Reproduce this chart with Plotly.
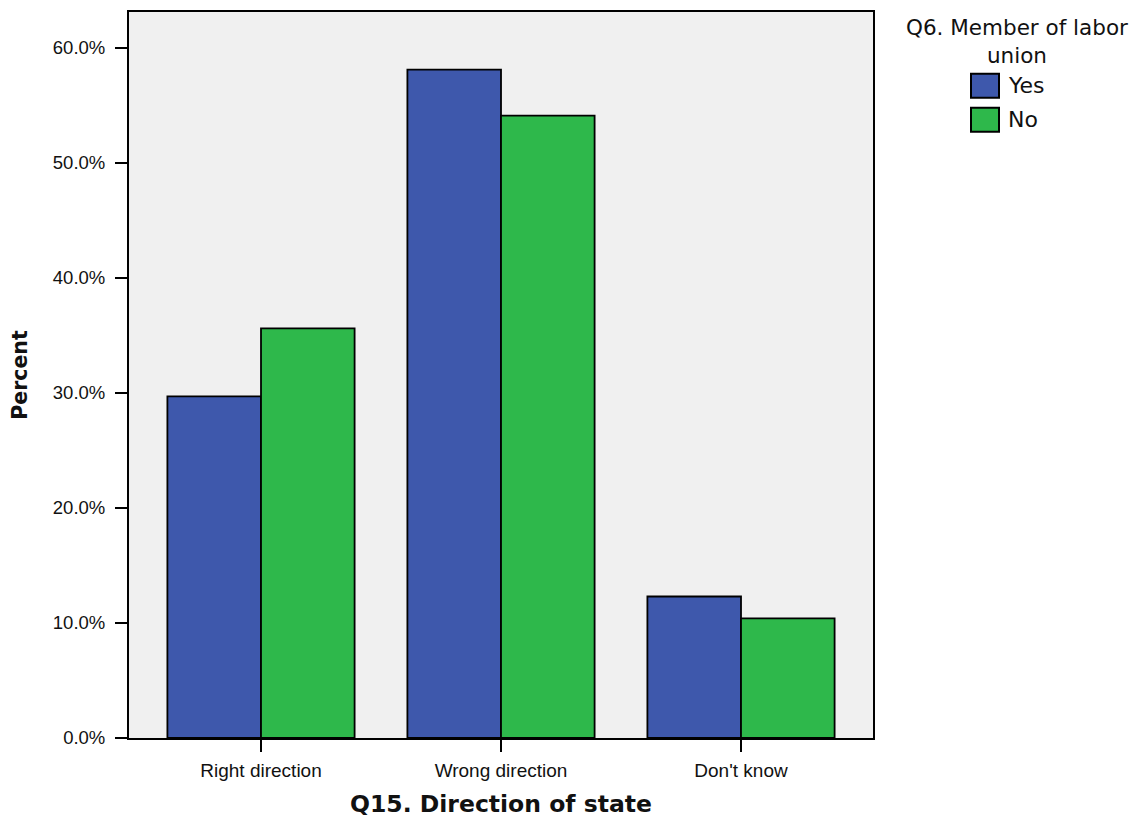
import plotly.graph_objects as go

categories = ["Right direction", "Wrong direction", "Don't know"]
series_names = ["Yes", "No"]
yes_values = [29.7, 58.1, 12.3]
no_values = [35.6, 54.1, 10.4]
series_colors = ["#3E58AC", "#2EB84B"]
y_ticks = [0, 10, 20, 30, 40, 50, 60]
y_tick_labels = ["0.0%", "10.0%", "20.0%", "30.0%", "40.0%", "50.0%", "60.0%"]
legend_title_lines = ["Q6. Member of labor", "union"]

# Plot area in screen pixels (page body has an 8px margin)
PL, PT, PW, PH = 129, 10, 744, 728
OFF = 8


def px(X):
    return (X - PL) / PW


def py(Y):
    return (PT + PH - Y) / PH


fig = go.Figure()
for name, vals, col in zip(series_names, [yes_values, no_values], series_colors):
    fig.add_trace(go.Bar(name=name, x=categories, y=vals,
                         marker=dict(color=col, line=dict(color="black", width=1.8))))

REG = "Liberation Sans, Arial, sans-serif"
DJ = "DejaVu Sans, sans-serif"

fig.update_layout(
    width=1141, height=820,
    margin=dict(l=PL - OFF, r=1141 - (PL - OFF) - PW, t=PT - OFF, b=820 - (PT - OFF) - PH),
    barmode="group", bargap=0.22, bargroupgap=0,
    plot_bgcolor="#F0F0F0", paper_bgcolor="white",
    font=dict(family=REG, color="black"),
    showlegend=False,
)

# Manual legend (title + swatches) to match the reference sizes
anns = []
anns.append(dict(text="<br>".join(legend_title_lines), x=px(1017), y=py(40),
                 xref="paper", yref="paper", align="center",
                 xanchor="center", yanchor="middle", showarrow=False,
                 font=dict(family=DJ, size=21.5, color="#111")))
shapes = []
for i, (name, col) in enumerate(zip(series_names, series_colors)):
    top = 72 + i * 34
    shapes.append(dict(type="rect", xref="paper", yref="paper",
                       x0=px(971), x1=px(999), y0=py(top), y1=py(top + 24),
                       fillcolor=col, line=dict(color="black", width=2)))
    anns.append(dict(text=name, x=px(1006), y=py(top + 12), xref="paper", yref="paper",
                     xanchor="left", yanchor="middle", showarrow=False,
                     font=dict(family=DJ, size=22, color="#111")))
fig.update_layout(annotations=anns, shapes=shapes)

fig.update_xaxes(
    range=[-0.55, 2.55],
    showline=True, linecolor="black", linewidth=2, mirror=True,
    ticks="outside", ticklen=12, tickwidth=2, tickcolor="black",
    tickfont=dict(size=19, family=REG, color="#111"), ticklabelstandoff=2,
    title=dict(text="<b>Q15. Direction of state</b>",
               font=dict(size=23.5, family=DJ, color="#111"), standoff=16),
    showgrid=False,
)
fig.update_yaxes(
    range=[0, 63.1],
    tickvals=y_ticks, ticktext=y_tick_labels,
    showline=True, linecolor="black", linewidth=2, mirror=True,
    ticks="outside", ticklen=12, tickwidth=2, tickcolor="black",
    tickfont=dict(size=18.5, family=REG, color="#111"), ticklabelstandoff=6,
    title=dict(text="<b>Percent</b>", font=dict(size=20.5, family=DJ, color="#111"), standoff=22),
    showgrid=False, zeroline=False,
)

fig.write_html("out.html")
